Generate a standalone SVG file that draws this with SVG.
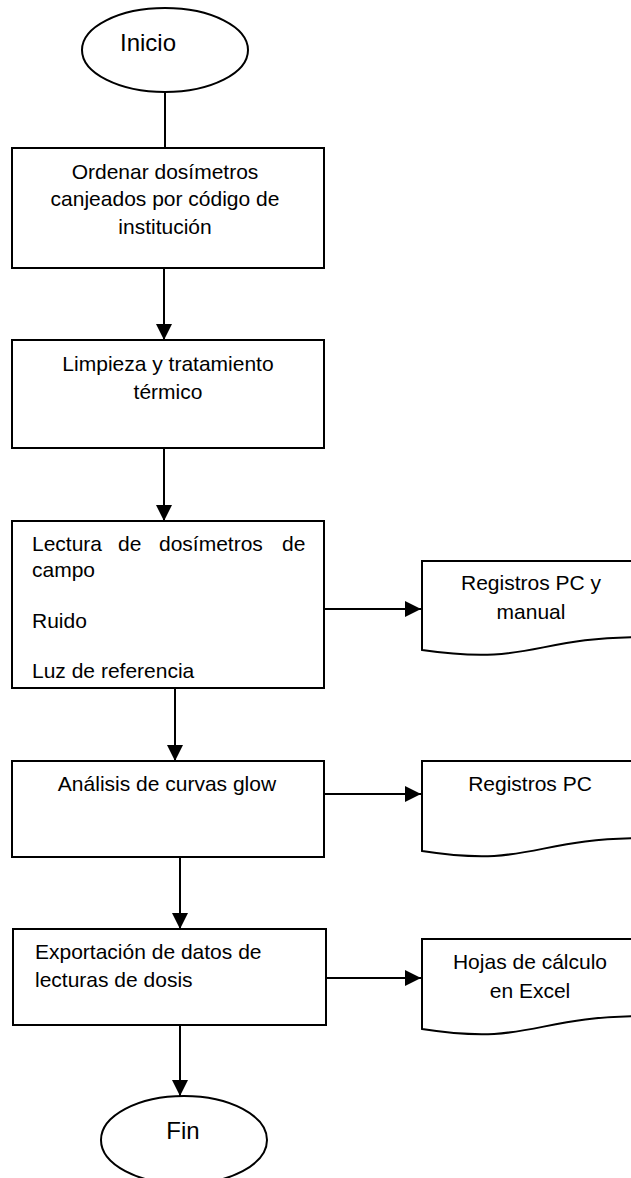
<svg xmlns="http://www.w3.org/2000/svg" width="631" height="1178" viewBox="0 0 631 1178">
  <style>
    .shape { fill: #ffffff; stroke: #000000; stroke-width: 2; }
    .conn { fill: none; stroke: #000000; stroke-width: 2; }
    text { font-family: "Liberation Sans", Arial, sans-serif; font-size: 21px; fill: #000000; }
    .c { text-anchor: middle; }
    .term { font-size: 24px; }
  </style>
  <defs>
    <marker id="arrow" viewBox="0 0 16 16" refX="16" refY="8" markerWidth="16" markerHeight="16" markerUnits="userSpaceOnUse" orient="auto">
      <path d="M0,0 L16,8 L0,16 Z" fill="#000000"/>
    </marker>
  </defs>

  <!-- connectors -->
  <g id="connectors">
    <line class="conn" x1="165" y1="92" x2="165" y2="148"/>
    <line class="conn" x1="164" y1="268" x2="164" y2="340" marker-end="url(#arrow)"/>
    <line class="conn" x1="164" y1="448" x2="164" y2="521" marker-end="url(#arrow)"/>
    <line class="conn" x1="324" y1="609" x2="421" y2="609" marker-end="url(#arrow)"/>
    <line class="conn" x1="175" y1="688" x2="175" y2="761" marker-end="url(#arrow)"/>
    <line class="conn" x1="324" y1="794" x2="421" y2="794" marker-end="url(#arrow)"/>
    <line class="conn" x1="180" y1="857" x2="180" y2="929" marker-end="url(#arrow)"/>
    <line class="conn" x1="326" y1="978" x2="421" y2="978" marker-end="url(#arrow)"/>
    <line class="conn" x1="180" y1="1025" x2="180" y2="1096" marker-end="url(#arrow)"/>
  </g>

  <!-- start terminator -->
  <g id="inicio">
    <ellipse class="shape" cx="165" cy="50" rx="83" ry="42"/>
    <text x="148" y="51" class="c term">Inicio</text>
  </g>

  <g id="ordenar">
    <rect class="shape" x="12" y="148" width="312" height="120"/>
    <text x="165" y="179" class="c">Ordenar dosímetros</text>
    <text x="165" y="206" class="c">canjeados por código de</text>
    <text x="165" y="234" class="c">institución</text>
  </g>

  <g id="limpieza">
    <rect class="shape" x="12" y="340" width="312" height="108"/>
    <text x="168" y="371" class="c">Limpieza y tratamiento</text>
    <text x="168" y="399" class="c">térmico</text>
  </g>

  <g id="lectura">
    <rect class="shape" x="12" y="521" width="312" height="167"/>
    <text y="551"><tspan x="32">Lectura</tspan><tspan x="118">de</tspan><tspan x="159">dosímetros</tspan><tspan x="282">de</tspan></text>
    <text x="32" y="577">campo</text>
    <text x="32" y="628">Ruido</text>
    <text x="32" y="678">Luz de referencia</text>
  </g>

  <g id="registros-pc-manual">
    <path class="shape" d="M422,561 H645 V637 C532,637 532,666 422,650 Z"/>
    <text x="531" y="590" class="c">Registros PC y</text>
    <text x="531" y="619" class="c">manual</text>
  </g>

  <g id="analisis">
    <rect class="shape" x="12" y="761" width="312" height="96"/>
    <text x="167" y="791" class="c">Análisis de curvas glow</text>
  </g>

  <g id="registros-pc">
    <path class="shape" d="M422,761 H645 V838 C532,838 532,868 422,851 Z"/>
    <text x="530" y="791" class="c">Registros PC</text>
  </g>

  <g id="exportacion">
    <rect class="shape" x="13" y="929" width="313" height="96"/>
    <text x="35" y="959">Exportación de datos de</text>
    <text x="35" y="987">lecturas de dosis</text>
  </g>

  <g id="hojas-calculo">
    <path class="shape" d="M422,939 H645 V1016 C532,1016 532,1046 422,1029 Z"/>
    <text x="530" y="969" class="c">Hojas de cálculo</text>
    <text x="530" y="998" class="c">en Excel</text>
  </g>

  <!-- end terminator -->
  <g id="fin">
    <ellipse class="shape" cx="184" cy="1140" rx="83" ry="44"/>
    <text x="183" y="1139" class="c term">Fin</text>
  </g>
</svg>
